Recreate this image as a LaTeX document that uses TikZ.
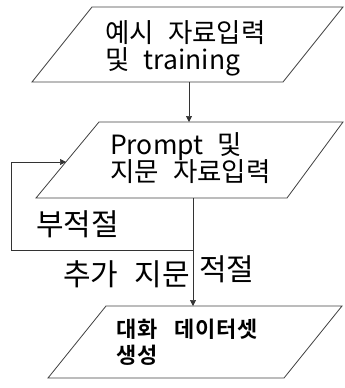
\documentclass[tikz,border=0pt]{standalone}
\usepackage{fontspec}
\newfontfamily\kr[WordSpace=3]{Noto Sans CJK KR}
\newfontfamily\krl[WordSpace=2.4]{Noto Sans CJK KR}
\newfontfamily\krb[WordSpace=3,LetterSpace=3]{Noto Sans CJK KR Bold}
\usetikzlibrary{arrows.meta}
\begin{document}
\begin{tikzpicture}[x=1pt,y=-1pt,
  box/.style={draw=black!75,line width=0.8pt,line join=miter},
  conn/.style={draw=black!80,line width=0.7pt},
  arr/.style={conn,-{Triangle[length=6pt,width=6pt]}},
  txt/.style={anchor=base west,inner sep=0pt,font=\kr\fontsize{26.5}{28}\selectfont},
  lbl/.style={anchor=base west,inner sep=0pt,font=\krl\fontsize{30}{30}\selectfont},
  btxt/.style={anchor=base west,inner sep=0pt,font=\krb\fontsize{22}{24}\selectfont}]
\useasboundingbox (0,0) rectangle (345,388);
% top parallelogram
\coordinate (a1) at (92,7); \coordinate (a2) at (343,7);
\coordinate (a3) at (283,82); \coordinate (a4) at (32,82);
\draw[box] (a1) -- (a2) -- (a3) -- (a4) -- cycle;
% middle
\coordinate (b1) at (99,122); \coordinate (b2) at (343,122);
\coordinate (b3) at (287,198); \coordinate (b4) at (36,198);
\draw[box] (b1) -- (b2) -- (b3) -- (b4) -- cycle;
% bottom
\coordinate (c1) at (106,306); \coordinate (c2) at (342,306);
\coordinate (c3) at (284,378); \coordinate (c4) at (48,378);
\draw[box] (c1) -- (c2) -- (c3) -- (c4) -- cycle;
% texts
\node[txt] (t1) at (105,42) {예시 자료입력};
\node[txt] (t2) at (105,69) {및 training};
\node[txt] (t3) at (110,154) {Prompt 및};
\node[txt] (t4) at (110,181) {지문 자료입력};
\node[btxt] (t5) at (116,337) {대화 데이터셋};
\node[btxt] (t6) at (116,363) {생성};
\node[lbl] (l1) at (36,235) {부적절};
\node[lbl] (l2) at (63,285) {추가 지문};
\node[lbl] (l3) at (199,280) {적절};
% connectors
\coordinate (s1) at (189,82); \coordinate (e1) at (189,122);
\draw[arr] (s1) -- (e1);
\coordinate (s2) at (193,198); \coordinate (e2) at (193,306);
\draw[arr] (s2) -- (e2);
\coordinate (j) at (193,250); \coordinate (k1) at (11,250);
\coordinate (k2) at (11,162); \coordinate (e3) at (66,162);
\draw[arr] (j) -- (k1) -- (k2) -- (e3);
\end{tikzpicture}
\end{document}
